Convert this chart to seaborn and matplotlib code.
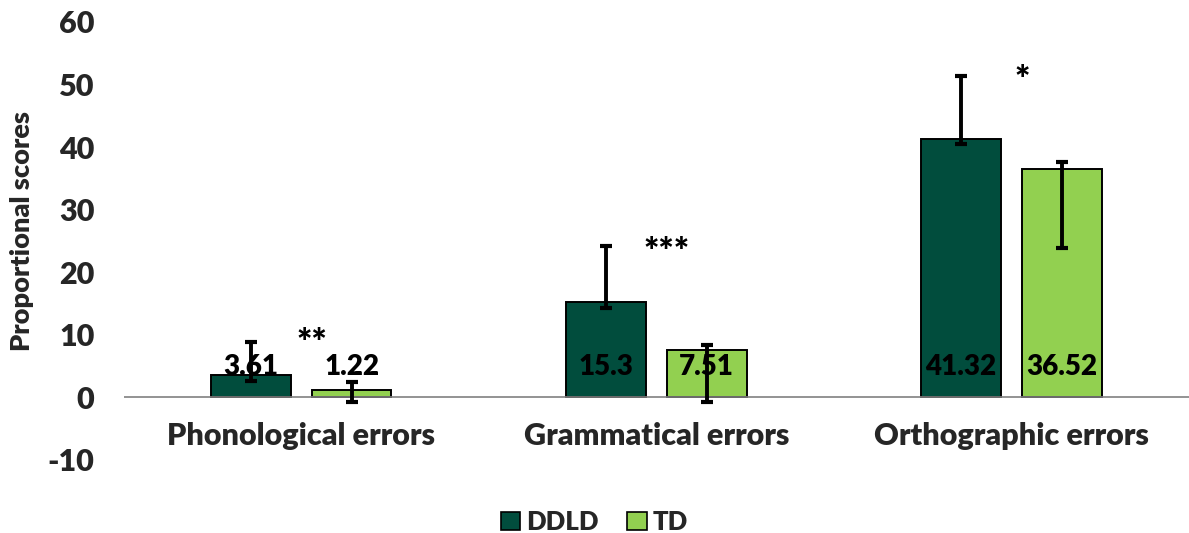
import matplotlib
matplotlib.use("Agg")
import matplotlib.pyplot as plt
import seaborn as sns
import pandas as pd
from matplotlib.patches import Patch

# Data
categories = ["Phonological errors", "Grammatical errors", "Orthographic errors"]
groups = ["DDLD", "TD"]
ddld_values = [3.61, 15.3, 41.32]
td_values = [1.22, 7.51, 36.52]
# Error bar endpoints (lower, upper) per bar
ddld_err_low = [2.55, 14.3, 40.5]
ddld_err_high = [8.9, 24.2, 51.4]
td_err_low = [-0.8, -0.8, 23.9]
td_err_high = [2.4, 8.45, 37.6]
significance = ["**", "***", "*"]
sig_y = [8.6, 23.1, 50.6]
y_ticks = [-10, 0, 10, 20, 30, 40, 50, 60]

colors = {"DDLD": "#014D3D", "TD": "#92D050"}
W = "heavy"

df = pd.DataFrame({
    "category": categories * 2,
    "group": ["DDLD"] * 3 + ["TD"] * 3,
    "value": ddld_values + td_values,
})

sns.set_theme(style="white")
plt.rcParams["font.family"] = ["Lato", "DejaVu Sans"]
plt.rcParams["font.weight"] = W

fig = plt.figure(figsize=(11.89, 5.33), dpi=100)
ax = fig.add_axes([0.104, 0.137, 0.896, 0.822])

sns.barplot(data=df, x="category", y="value", hue="group", order=categories,
            hue_order=groups, palette=colors, saturation=1, width=0.568, gap=0.21,
            edgecolor="black", linewidth=1.4, ax=ax, legend=False, errorbar=None)

lows = {"DDLD": ddld_err_low, "TD": td_err_low}
highs = {"DDLD": ddld_err_high, "TD": td_err_high}
vals = {"DDLD": ddld_values, "TD": td_values}

for container, g in zip(ax.containers, groups):
    for i, bar in enumerate(container):
        xc = bar.get_x() + bar.get_width() / 2
        v = vals[g][i]
        lo, hi = lows[g][i], highs[g][i]
        mid = (lo + hi) / 2
        ax.errorbar(xc, mid, yerr=[[mid - lo], [hi - mid]], fmt="none",
                    ecolor="black", elinewidth=2.8, capsize=4.5, capthick=3, zorder=5)
        ax.text(xc, 4.9, f"{v:g}", ha="center", va="center", fontsize=20,
                fontweight=W, color="black", zorder=6)

for i, (s, y) in enumerate(zip(significance, sig_y)):
    ax.text(i + 0.03, y, s, ha="center", va="center", fontsize=26,
            fontweight=W, color="black")

ax.axhline(0, color="#808080", lw=1.2, zorder=1)
ax.set_xlim(-0.5, 2.5)
ax.set_ylim(-10, 60)
ax.set_yticks(y_ticks)
ax.set_yticklabels([str(t) for t in y_ticks], fontsize=22, fontweight=W)
ax.set_xticks(range(len(categories)))
ax.set_xticklabels(categories, fontsize=22, fontweight=W)
ax.tick_params(axis="x", length=0, pad=-27)
ax.tick_params(axis="y", length=0, pad=21)
ax.set_xlabel("")
ax.set_ylabel("Proportional scores", fontsize=19.5, fontweight=W)
ax.yaxis.set_label_coords(-0.084, 0.523)
for sp in ax.spines.values():
    sp.set_visible(False)

handles = [Patch(facecolor=colors[g], edgecolor="black", linewidth=1.2, label=g) for g in groups]
fig.legend(handles=handles, loc="center", bbox_to_anchor=(0.5, 1 - 522 / 533), ncol=2,
           frameon=False, prop={"size": 18.5, "weight": W}, handlelength=0.75,
           handleheight=0.75, handletextpad=0.25, columnspacing=1.1)

fig.savefig("out.png", dpi=100)
